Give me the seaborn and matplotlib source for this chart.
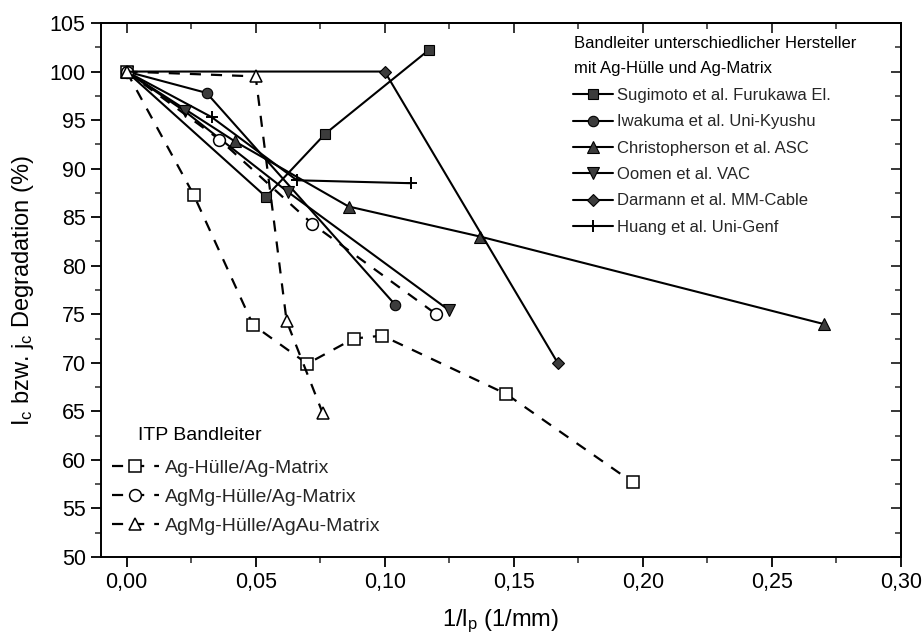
import matplotlib
matplotlib.use("Agg")
import matplotlib.pyplot as plt
import seaborn as sns
from matplotlib.ticker import MultipleLocator, FuncFormatter

sns.set_theme(style="white")
plt.rcParams['font.family'] = ['Liberation Sans', 'DejaVu Sans']
plt.rcParams['mathtext.default'] = 'regular'

# --- Literature data: tapes from different manufacturers (Ag sheath, Ag matrix)
sugimoto_x = [0.0, 0.054, 0.077, 0.117]
sugimoto_y = [100.0, 87.1, 93.6, 102.2]
iwakuma_x = [0.0, 0.031, 0.104]
iwakuma_y = [100.0, 97.8, 76.0]
christopherson_x = [0.0, 0.042, 0.086, 0.137, 0.270]
christopherson_y = [100.0, 92.8, 86.1, 83.0, 74.0]
oomen_x = [0.0, 0.0226, 0.0625, 0.125]
oomen_y = [100.0, 95.9, 87.6, 75.4]
darmann_x = [0.0, 0.100, 0.167]
darmann_y = [100.0, 100.0, 70.0]
huang_x = [0.0, 0.033, 0.066, 0.110]
huang_y = [100.0, 95.3, 88.8, 88.5]

# --- ITP tapes
itp_ag_x = [0.0, 0.026, 0.049, 0.070, 0.088, 0.099, 0.147, 0.196]
itp_ag_y = [100.0, 87.3, 73.9, 69.9, 72.5, 72.8, 66.8, 57.7]
itp_agmg_x = [0.0, 0.036, 0.072, 0.120]
itp_agmg_y = [100.0, 93.0, 84.3, 75.0]
itp_agau_x = [0.0, 0.050, 0.062, 0.076]
itp_agau_y = [100.0, 99.5, 74.3, 64.8]

x_ticks = [0.00, 0.05, 0.10, 0.15, 0.20, 0.25, 0.30]
y_ticks = [50, 55, 60, 65, 70, 75, 80, 85, 90, 95, 100, 105]

lit_labels = ["Sugimoto et al. Furukawa El.", "Iwakuma et al. Uni-Kyushu",
              "Christopherson et al. ASC", "Oomen et al. VAC",
              "Darmann et al. MM-Cable", "Huang et al. Uni-Genf"]
itp_labels = ["Ag-Hülle/Ag-Matrix", "AgMg-Hülle/Ag-Matrix", "AgMg-Hülle/AgAu-Matrix"]

fig = plt.figure(figsize=(9.23, 6.41), dpi=100)
ax = fig.add_axes([101 / 923, 1 - 557 / 641, 800 / 923, 534 / 641])

fill = '#3c3c3c'
lit_series = [
    (sugimoto_x, sugimoto_y, 's', 7),
    (iwakuma_x, iwakuma_y, 'o', 7.5),
    (christopherson_x, christopherson_y, '^', 8.5),
    (oomen_x, oomen_y, 'v', 8.5),
    (darmann_x, darmann_y, 'D', 6.5),
    (huang_x, huang_y, '+', 9),
]
lit_handles = []
for (xs, ys, m, ms), lab in zip(lit_series, lit_labels):
    sns.lineplot(x=xs, y=ys, sort=False, estimator=None, ax=ax, color='black',
                 linewidth=1.5, linestyle='-', marker=m, markersize=ms,
                 markerfacecolor=fill, markeredgecolor='black',
                 markeredgewidth=1.4 if m == '+' else 0.8, legend=False)
    lit_handles.append(ax.lines[-1])

itp_series = [
    (itp_ag_x, itp_ag_y, 's', 8),
    (itp_agmg_x, itp_agmg_y, 'o', 8.5),
    (itp_agau_x, itp_agau_y, '^', 9),
]
itp_handles = []
for (xs, ys, m, ms), lab in zip(itp_series, itp_labels):
    sns.lineplot(x=xs, y=ys, sort=False, estimator=None, ax=ax, color='black',
                 linewidth=1.6, linestyle=(0, (5, 4.5)), marker=m, markersize=ms,
                 markerfacecolor='white', markeredgecolor='black',
                 markeredgewidth=1.1, legend=False)
    itp_handles.append(ax.lines[-1])

ax.set_xlim(-0.0099, 0.30)
ax.set_ylim(50, 105)
ax.set_xticks(x_ticks)
ax.set_yticks(y_ticks)
ax.xaxis.set_minor_locator(MultipleLocator(0.025))
ax.yaxis.set_minor_locator(MultipleLocator(2.5))
ax.xaxis.set_major_formatter(FuncFormatter(lambda v, p: f"{v:.2f}".replace('.', ',')))
ax.grid(False)
for s in ax.spines.values():
    s.set_linewidth(1.4)
    s.set_color('black')
ax.tick_params(which='major', direction='out', length=7, width=1.3,
               labelsize=15.5, colors='black', pad=4)
ax.tick_params(which='minor', direction='out', length=4, width=1.1)
ax.tick_params(top=False, right=False, bottom=True, left=True, which='both')

# mirrored inward ticks on top and right
top = ax.secondary_xaxis('top')
top.set_xticks(x_ticks)
top.xaxis.set_minor_locator(MultipleLocator(0.025))
top.tick_params(which='major', direction='in', length=7, width=1.3, labeltop=False)
top.tick_params(which='minor', direction='in', length=4, width=1.1)
top.spines['top'].set_linewidth(1.4)
right = ax.secondary_yaxis('right')
right.set_yticks(y_ticks)
right.yaxis.set_minor_locator(MultipleLocator(2.5))
right.tick_params(which='major', direction='in', length=7, width=1.3, labelright=False)
right.tick_params(which='minor', direction='in', length=4, width=1.1)
right.spines['right'].set_linewidth(1.4)

ax.set_xlabel("1/l$_{p}$ (1/mm)", fontsize=17, color='black', labelpad=10)
ax.set_ylabel("I$_{c}$ bzw. j$_{c}$ Degradation (%)", fontsize=17, color='black', labelpad=10)

# legend for the literature data, with its two-line heading
fig.text(574 / 923, 1 - 43 / 641, "Bandleiter unterschiedlicher Hersteller",
         fontsize=12, va='center', ha='left', color='black')
fig.text(574 / 923, 1 - 69 / 641, "mit Ag-Hülle und Ag-Matrix",
         fontsize=12, va='center', ha='left', color='black')
leg1 = ax.legend(lit_handles, lit_labels,
                 loc='upper left', bbox_to_anchor=(573 / 923, 1 - 88 / 641),
                 bbox_transform=fig.transFigure, frameon=False, fontsize=12,
                 handlelength=2.4, handletextpad=0.25,
                 labelspacing=0.68, borderpad=0, borderaxespad=0, numpoints=1)
ax.add_artist(leg1)

# legend for the ITP tapes
fig.text(138 / 923, 1 - 436 / 641, "ITP Bandleiter",
         fontsize=14, va='center', ha='left', color='black')
leg2 = ax.legend(itp_handles, itp_labels, loc='upper left',
                 bbox_to_anchor=(112 / 923, 1 - 459 / 641),
                 bbox_transform=fig.transFigure, frameon=False, fontsize=14,
                 handlelength=2.4, handletextpad=0.3, labelspacing=0.6,
                 borderpad=0, borderaxespad=0, numpoints=1)

fig.savefig("out.png", dpi=100)
